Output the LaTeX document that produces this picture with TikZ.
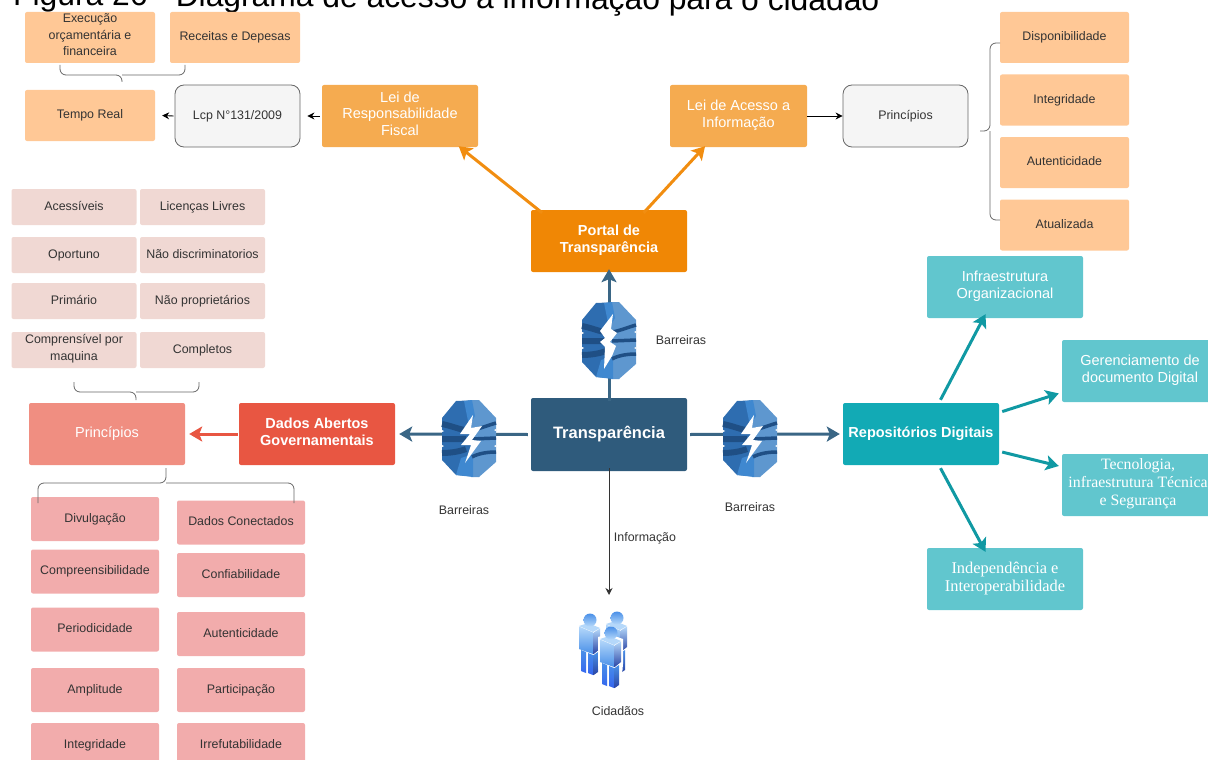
\documentclass[tikz,border=0pt]{standalone}
\usepackage{fontspec}
\setmainfont{Liberation Sans}
\newfontfamily\seriffont{Liberation Serif}
\usetikzlibrary{arrows.meta}
\definecolor{peach}{HTML}{FFC896}
\definecolor{amber}{HTML}{F5AB50}
\definecolor{portalc}{HTML}{F08705}
\definecolor{navy}{HTML}{2F5B7C}
\definecolor{navyline}{HTML}{3A6685}
\definecolor{redc}{HTML}{E85642}
\definecolor{salmon}{HTML}{F08E81}
\definecolor{pinkc}{HTML}{F2ACAC}
\definecolor{palepink}{HTML}{F0D8D3}
\definecolor{tealc}{HTML}{12AAB5}
\definecolor{paleteal}{HTML}{61C6CE}
\definecolor{grayc}{HTML}{F5F5F5}
\definecolor{txt}{HTML}{333333}
\definecolor{dbdark}{HTML}{1F4F85}
\definecolor{dbmid}{HTML}{2E6DB0}
\definecolor{dbface}{HTML}{3F88D0}
\definecolor{dblight}{HTML}{5E97CF}
\newcommand\barrierbody{
	\fill[dbmid] (-13,-37)--(10,-38)--(10,39)--(-13,37)--(-27,22)--(-27,-20)--cycle;
	\fill[dblight] (2,-38)--(10,-38)--(27,-20)--(27,24)--(10,39)--(2,39)--cycle;
	\fill[dbface] (-5,-37)--(3,-38)--(6,-22)--(0,-12)--cycle (-13,37)--(-8,20)--(4,16)--(4,39)--cycle;
	\draw[dbdark,line width=6] (-27,-14) .. controls (-17,-12) and (-8,-8) .. (-3,-8) (-27,1)--(-3,1) (-27,15) .. controls (-17,15) and (-8,13) .. (-3,11);
	\draw[dbdark,line width=3.5] (27,-15) .. controls (20,-13) and (10,-9) .. (3,-8) (27,0)--(3,1) (27,14) .. controls (20,14) and (10,15) .. (3,19);
	\fill[white] (-27,-8)--(-25,-7)--(-27,-6)--cycle (-27,7)--(-25,8)--(-27,9)--cycle (27,-9)--(25,-8)--(27,-7)--cycle (27,7)--(25,8)--(27,9)--cycle;
}
\tikzset{
	barrier/.pic={\barrierbody \fill[white] (4,-23)--(-9,-4)--(1,-4)--(-8,7)--(2,7)--(-4,25)--(12,3)--(3,2)--(13,-12)--(2,-10)--cycle;},
	barrierup/.pic={\barrierbody \fill[white] (4,-26)--(-9,-9)--(-4,-2)--(-9,2)--(-4,7)--(-5,29)--(3,16)--(7,6)--(1,2)--(8,-7)--(2,-11)--cycle;},
	person/.pic={
		\fill[white] (-13,4)--(-2,1)--(12,6)--(12,31)--(10,54)--(3,58)--(-11,53)--(-13,30)--cycle;
		\fill[personpale] (-11,6)--(-2,3)--(10,8)--(3,12)--cycle;
		\shade[top color=personpale,bottom color=personfront] (-11,6.5)--(3,12.5)--(3,34)--(-11,29)--cycle;
		\shade[top color=personfront,bottom color=personfront!70!blue] (-9,30)--(-4,32)--(-4,53)--(-9,51)--cycle (-2,33)--(3,35)--(3,55)--(-2,53)--cycle;
		\shade[top color=personpale,bottom color=personside] (3.7,12.5)--(10,8.5)--(10,29)--(3.7,34)--cycle;
		\shade[top color=personfront,bottom color=personside] (3.7,35)--(8,32)--(8,52)--(3.7,55)--cycle;
		\shade[top color=personfront,bottom color=personpale] (0,0)circle(6.5);
	}
}
\definecolor{personpale}{HTML}{B5D8FA}
\definecolor{personfront}{HTML}{4A90E8}
\definecolor{personside}{HTML}{2A45A5}
\begin{document}
\begin{tikzpicture}[x=1pt,y=-1pt,>=stealth,line join=round,font=\fontsize{12.4}{16.5}\selectfont,
	box/.style={rectangle,rounded corners=2,align=center,inner sep=0,text=txt,execute at begin node=\strut,execute at end node=\strut},
	peachbox/.style={box,fill=peach,minimum width=130,minimum height=51},
	palebox/.style={box,fill=palepink,minimum width=125,minimum height=36},
	pinkbox/.style={box,fill=pinkc,minimum width=128,minimum height=44},
	graybox/.style={box,rounded corners=9,fill=grayc,draw=black!60,line width=.8,minimum width=125,minimum height=62},
	mainbox/.style={box,text=white,font=\fontsize{14.5}{16.5}\selectfont\bfseries,minimum width=156,minimum height=62},
	softbox/.style={box,text=white,font=\fontsize{14.5}{16.5}\selectfont,minimum width=156,minimum height=62},
	tealbox/.style={softbox,fill=paleteal},
	serifbox/.style={tealbox,font=\fontsize{16.4}{18}\selectfont\seriffont},
	word/.style={inner sep=0,text=txt},
	bigarrow/.style={line width=3,-{Stealth[length=13,width=15,inset=3]}},
	thinarrow/.style={line width=.9,-{Stealth[length=7,width=7]}},
	bracket/.style={draw=black!60,line width=.8,rounded corners=6}]
	\useasboundingbox[clip] (0,0) rectangle (1208,760);
	\node[anchor=base west,inner sep=0,rotate=-0.4,font=\fontsize{31.8}{32}\selectfont,text=black] (title) at (13,5) {Figura 26 - Diagrama de acesso à informação para o cidadão};
	\node[peachbox] (exec) at (90,37.5) {Execução\\orçamentária e\\financeira};
	\node[peachbox] (rec) at (235,37.5) {Receitas e Depesas};
	\node[peachbox] (tempo) at (90,115.5) {Tempo Real};
	\node[graybox] (lcp) at (237.5,116) {Lcp N°131/2009};
	\node[softbox,fill=amber] (lrf) at (400,116) {Lei de\\Responsabilidade\\Fiscal};
	\node[softbox,fill=amber,minimum width=137] (lai) at (738.5,116) {Lei de Acesso a\\Informação};
	\node[graybox] (princgray) at (905.5,116) {Princípios};
	\foreach \nm/\yy/\tx in {disp/37.5/Disponibilidade,integ/100/Integridade,autent/162.5/Autenticidade,atual/225/Atualizada}
		\node[peachbox,minimum width=129] (\nm) at (1064.5,\yy) {\tx};
	\node[mainbox,fill=portalc] (portal) at (609,241) {Portal de\\Transparência};
	\node[mainbox,fill=navy,minimum height=73,font=\fontsize{16.5}{18}\selectfont\bfseries] (transp) at (609,434.5) {Transparência};
	\node[mainbox,fill=redc] (dados) at (317,434) {Dados Abertos\\Governamentais};
	\node[softbox,fill=salmon] (princred) at (107,434) {Princípios};
	\node[mainbox,fill=tealc] (repo) at (921,434) {Repositórios Digitais};
	\node[tealbox] (infra) at (1005,287) {Infraestrutura\\Organizacional};
	\node[tealbox] (geren) at (1140,371) {Gerenciamento de\\documento Digital};
	\node[serifbox,font=\fontsize{15.8}{18}\selectfont\seriffont,minimum width=152] (tecno) at (1138,485) {Tecnologia,\\infraestrutura Técnica\\e Segurança};
	\node[serifbox] (indep) at (1005,579) {Independência e\\Interoperabilidade};
	\foreach \nm/\xx/\yy/\tx in {acess/74/207/Acessíveis,licen/202.5/207/Licenças Livres,oport/74/255/Oportuno,naodisc/202.5/255/Não discriminatorios,prim/74/301/Primário,naoprop/202.5/301/Não proprietários,compr/74/350/Comprensível por\\maquina,compl/202.5/350/Completos}
		\node[palebox] (\nm) at (\xx,\yy) {\tx};
	\foreach \nm/\yy/\tx in {divul/519/Divulgação,compre/571.5/Compreensibilidade,perio/629.5/Periodicidade,ampli/690/Amplitude,integr/745/Integridade}
		\node[pinkbox] (\nm) at (95,\yy) {\tx};
	\foreach \nm/\yy/\tx in {conect/522.5/Dados Conectados,confi/575/Confiabilidade,auten/634/Autenticidade,parti/690/Participação,irref/745/Irrefutabilidade}
		\node[pinkbox] (\nm) at (241,\yy) {\tx};
	\coordinate (cidtop) at (609,595);
	\draw[bigarrow,navyline] ([yshift=-3]transp.north) -- ([yshift=3]portal.south);
	\draw[bigarrow,navyline] ([xshift=-3]transp.west) -- ([xshift=4]dados.east);
	\draw[bigarrow,navyline] ([xshift=3]transp.east) -- ([xshift=-3]repo.west);
	\draw[thinarrow,txt] ([yshift=3]transp.south) -- (cidtop);
	\draw[bigarrow,portalc!85!amber] ([yshift=-3]portal.155.8) -- ([yshift=1]lrf.-28.5);
	\draw[bigarrow,portalc!85!amber] ([yshift=-3]portal.42.4) -- ([yshift=1]lai.-137);
	\draw[bigarrow,redc] ([xshift=-1]dados.west) -- ([xshift=4]princred.east);
	\draw[bigarrow,tealc!90!black] ([yshift=3]repo.58.5) -- ([yshift=4]infra.-122.8);
	\draw[bigarrow,tealc!90!black] ([xshift=3]repo.16.4) -- ([xshift=-3]geren.-164.2);
	\draw[bigarrow,tealc!90!black] ([xshift=3]repo.-13) -- ([xshift=-3]tecno.166.3);
	\draw[bigarrow,tealc!90!black] ([yshift=-3]repo.-58.5) -- ([yshift=-4]indep.122.8);
	\draw[thinarrow] ([xshift=-2]lrf.west) -- ([xshift=7]lcp.east);
	\draw[thinarrow] ([xshift=-1]lcp.west) -- ([xshift=7]tempo.east);
	\draw[thinarrow] (lai.east) -- (princgray.west);
	\pic at (609,340) {barrierup};
	\pic at (469,438) {barrier};
	\pic at (750,438) {barrier};
	\draw[bracket] (60,65) |- (122,75) -- (122,82) (185,65) |- (122,75);
	\draw[bracket] (1000,43) -| (990,131) -- (980,131) (1000,220) -| (990,131);
	\draw[bracket] (74,382) |- (136,392) -- (136,400) (199,382) |- (136,392);
	\draw[bracket] (38,503) |- (166,483) -- (166,468) (294,503) |- (166,483);
	\pic at (617,618) {person};
	\pic at (590,620) {person};
	\pic at (611,633) {person};
	\node[word] (barup) at (681,340) {Barreiras};
	\node[word] (barleft) at (464,510) {Barreiras};
	\node[word] (barright) at (750,507) {Barreiras};
	\node[word] (info) at (645,538) {Informação};
	\node[word] (cid) at (618,711) {Cidadãos};
\end{tikzpicture}
\end{document}
